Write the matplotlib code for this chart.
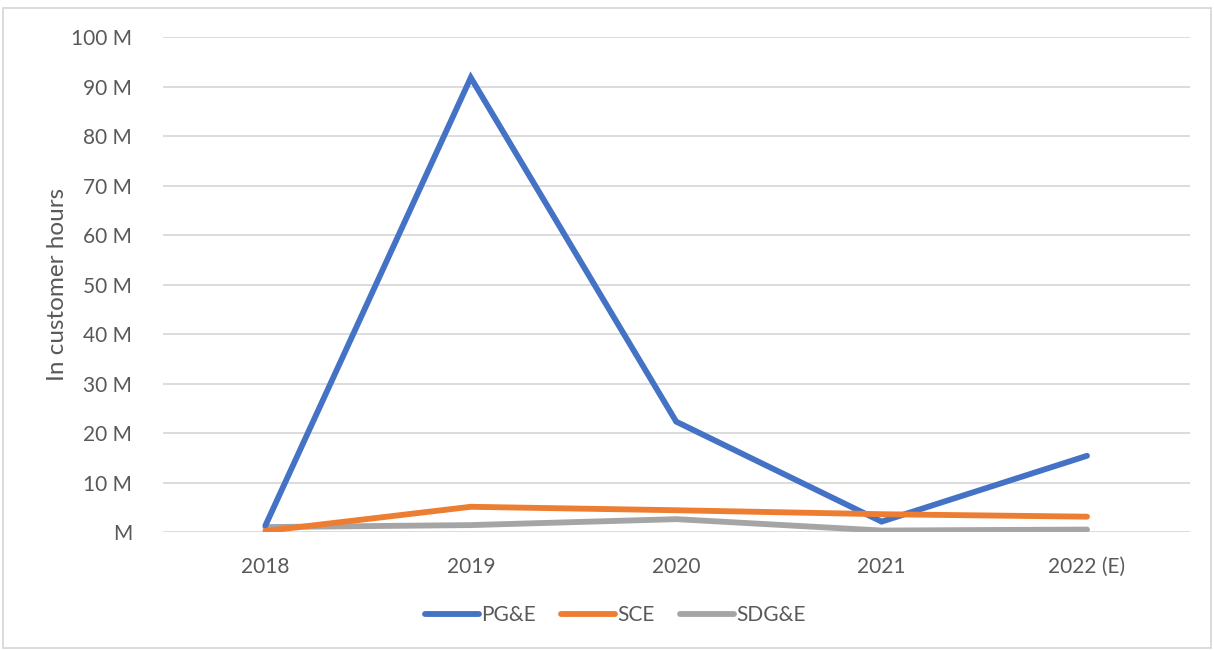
import matplotlib.pyplot as plt
from matplotlib.patches import Rectangle

# datos
anios = ['2018', '2019', '2020', '2021', '2022 (E)']
pge = [1.3, 91.8, 22.3, 2.1, 15.4]
sce = [0.2, 5.1, 4.4, 3.6, 3.1]
sdge = [1.0, 1.4, 2.6, 0.3, 0.5]
ticks_y = [0, 10, 20, 30, 40, 50, 60, 70, 80, 90, 100]
etiquetas_y = ['M' if v == 0 else f'{v} M' for v in ticks_y]

plt.rcParams['font.family'] = ['Lato', 'DejaVu Sans']
gris_texto = '#595959'

fig = plt.figure(figsize=(12.14, 6.5), dpi=100)
ax = fig.add_axes([0.134, 0.1815, 0.846, 0.7615])

x = list(range(len(anios)))
ax.plot(x, pge, color='#4472C4', lw=4.2, solid_capstyle='round', solid_joinstyle='miter', label='PG&E', zorder=3)
ax.plot(x, sce, color='#ED7D31', lw=4.2, solid_capstyle='round', label='SCE', zorder=3)
ax.plot(x, sdge, color='#A5A5A5', lw=4.2, solid_capstyle='round', label='SDG&E', zorder=2)

ax.set_xlim(-0.5, len(anios) - 0.5)
ax.set_ylim(0, 100)
ax.set_xticks(x)
ax.set_xticklabels(anios)
ax.set_yticks(ticks_y)
ax.set_yticklabels(etiquetas_y)
ax.tick_params(length=0, labelsize=15, colors=gris_texto)
ax.tick_params(axis='x', pad=18)
ax.tick_params(axis='y', pad=22)
ax.grid(axis='y', color='#D9D9D9', lw=1.3)
ax.set_axisbelow(True)
for s in ax.spines.values():
    s.set_visible(False)
ax.set_ylabel('In customer hours', fontsize=17.5, color=gris_texto, labelpad=2)

fig.legend(loc='center', bbox_to_anchor=(0.507, 0.054), ncol=3, frameon=False,
           fontsize=15, labelcolor=gris_texto, handlelength=2.6, handletextpad=0.1,
           columnspacing=1.2)

# marco del grafico
fig.patches.append(Rectangle((3 / 1214, 2 / 650), 1208 / 1214, 640 / 650, transform=fig.transFigure,
                             fill=False, edgecolor='#D9D9D9', lw=1.3))

fig.savefig('out.png', dpi=100)
